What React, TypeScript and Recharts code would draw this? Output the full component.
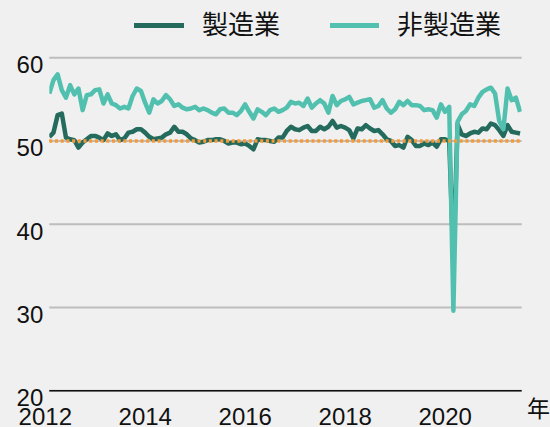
import React from 'react';
import { LineChart, Line, XAxis, YAxis, CartesianGrid, ReferenceLine } from 'recharts';

// 製造業・非製造業 PMI（月次, 2012年1月〜2021年6月）
const startYear = 2012;
const mfg = [
  50.5, 51.0, 53.1, 53.3, 50.4, 50.2, 50.1, 49.2, 49.8, 50.2, 50.6, 50.6,
  50.4, 50.1, 50.9, 50.6, 50.8, 50.1, 50.3, 51.0, 51.1, 51.4, 51.4, 51.0,
  50.5, 50.2, 50.3, 50.4, 50.8, 51.0, 51.7, 51.1, 51.1, 50.8, 50.3, 50.1,
  49.8, 49.9, 50.1, 50.1, 50.2, 50.2, 50.0, 49.7, 49.8, 49.8, 49.6, 49.7,
  49.4, 49.0, 50.2, 50.1, 50.1, 50.0, 49.9, 50.4, 50.4, 51.2, 51.7, 51.4,
  51.3, 51.6, 51.8, 51.2, 51.2, 51.7, 51.4, 51.7, 52.4, 51.6, 51.8, 51.6,
  51.3, 50.3, 51.5, 51.4, 51.9, 51.5, 51.2, 51.3, 50.8, 50.2, 50.0, 49.4,
  49.5, 49.2, 50.5, 50.1, 49.4, 49.4, 49.7, 49.5, 49.8, 49.3, 50.2, 50.2,
  50.0, 35.7, 52.0, 50.8, 50.6, 50.9, 51.1, 51.0, 51.5, 51.4, 52.1, 51.9,
  51.3, 50.6, 51.9, 51.1, 51.0, 50.9,
];
const nonMfg = [
  55.7, 57.3, 58.0, 56.1, 55.2, 56.7, 55.6, 56.3, 53.7, 55.5, 55.6, 56.1,
  56.2, 54.5, 55.6, 54.5, 54.3, 53.9, 54.1, 53.9, 55.4, 56.3, 56.0, 54.6,
  53.4, 55.0, 54.5, 54.8, 55.5, 55.0, 54.2, 54.4, 54.0, 53.8, 53.9, 54.1,
  53.7, 53.9, 53.7, 53.4, 53.2, 53.8, 53.9, 53.4, 53.4, 53.1, 53.6, 54.4,
  53.5, 52.7, 53.8, 53.5, 53.1, 53.7, 53.9, 53.5, 53.7, 54.0, 54.7, 54.5,
  54.6, 54.2, 55.1, 54.0, 54.5, 54.9, 54.5, 53.4, 55.4, 54.3, 54.8, 55.0,
  55.3, 54.4, 54.6, 54.8, 54.9, 55.0, 54.0, 54.2, 54.9, 53.9, 53.4, 53.8,
  54.7, 54.3, 54.8, 54.3, 54.3, 54.2, 53.7, 53.8, 53.7, 52.8, 54.4, 53.5,
  54.1, 29.6, 52.3, 53.2, 53.6, 54.4, 54.2, 55.2, 55.9, 56.2, 56.4, 55.7,
  52.4, 51.4, 56.3, 54.9, 55.2, 53.5,
];
const yearTicks = [2012, 2014, 2016, 2018, 2020];
const valueTicks = [20, 30, 40, 50, 60];

const data = mfg.map((v, i) => ({ t: startYear + i / 12, mfg: v, nonMfg: nonMfg[i] }));

const FONT = "'Liberation Sans', Arial, 'Noto Sans CJK JP', sans-serif";
const DARK = '#256b5d';
const TEAL = '#52c0ae';

const YTick = (props: any) => {
  const { x, y, payload } = props;
  return (
    <text x={x + 2} y={y} dy={15.5} textAnchor="end" fontSize={24} fill="#111" fontFamily={FONT}>
      {payload.value}
    </text>
  );
};

const XTick = (props: any) => {
  const { x, y, payload } = props;
  return (
    <text x={x - 4} y={y} dy={26.3} textAnchor="middle" fontSize={24} fill="#111" fontFamily={FONT}>
      {payload.value}
    </text>
  );
};

export default function App() {
  return (
    <div style={{ position: 'fixed', top: 0, left: 0, width: 550, height: 427, background: '#f0f0f0', fontFamily: FONT }}>
      {/* 凡例 */}
      <div style={{ position: 'absolute', top: 10, left: 134, display: 'flex', alignItems: 'center', fontSize: 26, lineHeight: '30px', color: '#111' }}>
        <span style={{ display: 'inline-block', width: 50, height: 5, background: DARK, marginRight: 18 }} />
        <span>製造業</span>
        <span style={{ display: 'inline-block', width: 49, height: 5, background: TEAL, marginLeft: 50, marginRight: 18 }} />
        <span>非製造業</span>
      </div>
      <LineChart width={550} height={427} data={data} margin={{ top: 57.7, right: 28.3, bottom: 0, left: 0 }}>
        <CartesianGrid vertical={false} stroke="#bdbdbd" strokeWidth={2} />
        <XAxis
          type="number"
          dataKey="t"
          domain={[2012, 2021.45]}
          ticks={yearTicks}
          allowDataOverflow
          height={36.3}
          axisLine={{ stroke: '#111', strokeWidth: 1.5 }}
          tickLine={false}
          tick={<XTick />}
        />
        <YAxis
          domain={[20, 60]}
          ticks={valueTicks}
          width={49.3}
          axisLine={false}
          tickLine={false}
          tick={<YTick />}
        />
        <Line type="linear" dataKey="mfg" stroke={DARK} strokeWidth={4.5} strokeLinejoin="round" dot={false} isAnimationActive={false} />
        <Line type="linear" dataKey="nonMfg" stroke={TEAL} strokeWidth={4.5} strokeLinejoin="round" dot={false} isAnimationActive={false} />
        <ReferenceLine y={50} stroke="#f59a38" strokeWidth={3.5} strokeDasharray="3 2.7" />
      </LineChart>
      <div style={{ position: 'absolute', left: 527, top: 396, fontSize: 23, lineHeight: '26px', color: '#111' }}>年</div>
    </div>
  );
}
